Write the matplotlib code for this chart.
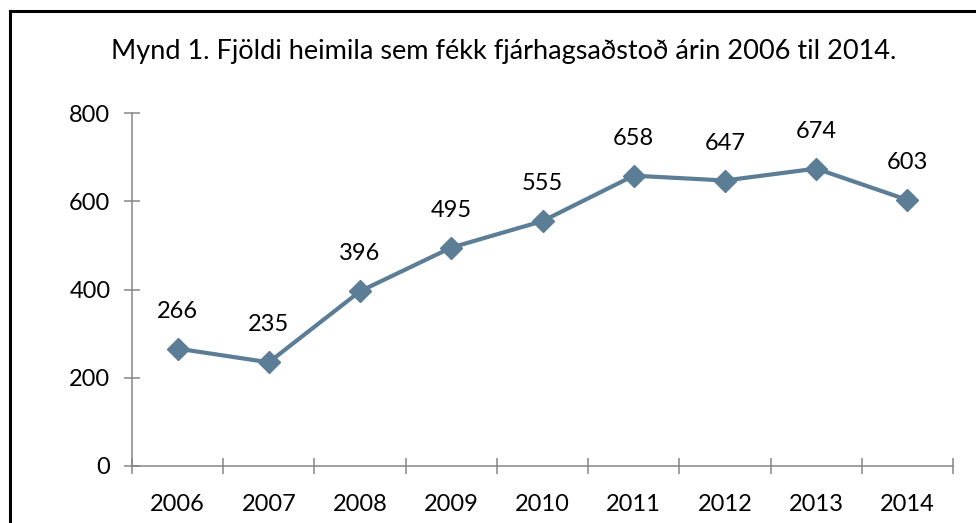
import matplotlib
matplotlib.use("Agg")
import matplotlib.pyplot as plt
from matplotlib.lines import Line2D

plt.rcParams['font.family'] = ['Lato', 'DejaVu Sans']

years = ['2006', '2007', '2008', '2009', '2010', '2011', '2012', '2013', '2014']
households = [266, 235, 396, 495, 555, 658, 647, 674, 603]
title = 'Mynd 1. Fjöldi heimila sem fékk fjárhagsaðstoð árin 2006 til 2014.'

line_color = '#5B7D96'
axis_color = '#868686'

fig = plt.figure(figsize=(9.76, 5.23), dpi=100)
ax = fig.add_axes([132 / 976, 1 - 466 / 523, (953 - 132) / 976, (466 - 113) / 523])

x = list(range(len(years)))
ax.plot(x, households, color=line_color, lw=3, marker='D', ms=11,
        markeredgecolor=line_color, markerfacecolor=line_color, clip_on=False)

for xi, v in zip(x, households):
    ax.annotate(str(v), (xi, v), xytext=(0, 27), textcoords='offset points',
                ha='center', va='center', fontsize=17, color='black')

ax.set_xlim(-0.5, len(years) - 0.5)
ax.set_ylim(0, 800)
ax.set_yticks([0, 200, 400, 600, 800])
ax.set_xticks(x)
ax.set_xticklabels(years)
ax.set_xticks([i - 0.5 for i in range(len(years) + 1)], minor=True)

ax.tick_params(axis='x', which='major', length=0, pad=20, labelsize=17)
ax.tick_params(axis='x', which='minor', direction='inout', length=11, width=1.1,
               color=axis_color)
ax.tick_params(axis='y', direction='inout', length=11, width=1.1, color=axis_color,
               pad=10, labelsize=17)

for s in ['top', 'right']:
    ax.spines[s].set_visible(False)
for s in ['left', 'bottom']:
    ax.spines[s].set_color(axis_color)
    ax.spines[s].set_linewidth(1.1)

fig.text(504 / 976, 1 - 51 / 523, title, ha='center', va='center', fontsize=19.5)

# frame around the chart area (only left and top edges are in view)
fig.add_artist(Line2D([9.5 / 976, 9.5 / 976], [0, 1 - 10.5 / 523],
                      transform=fig.transFigure, color='black', lw=2.2))
fig.add_artist(Line2D([9.5 / 976, 1], [1 - 10.5 / 523, 1 - 10.5 / 523],
                      transform=fig.transFigure, color='black', lw=2.2))

fig.savefig('out.png', dpi=100)
